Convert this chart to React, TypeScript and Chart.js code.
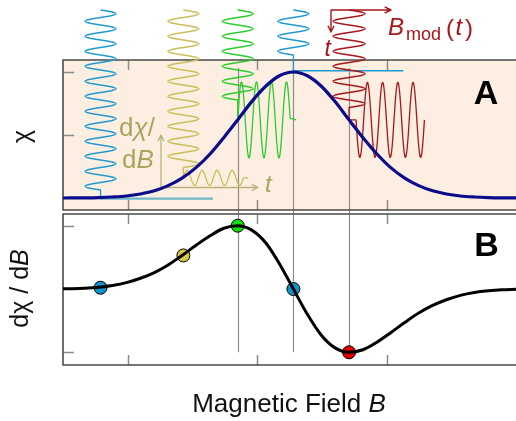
import React, { useEffect, useRef } from "react";
import { Chart, registerables } from "chart.js";

Chart.register(...registerables);

// ---------- data ----------
// magnetic field (arbitrary units)
const fieldB = [
  0.726, 0.78, 0.834, 0.888, 0.941, 0.995, 1.049, 1.103, 1.156, 1.21, 1.264, 1.318,
  1.371, 1.425, 1.479, 1.533, 1.586, 1.64, 1.694, 1.748, 1.801, 1.855, 1.909, 1.963,
  2.016, 2.07, 2.124, 2.178, 2.231, 2.285, 2.339, 2.393, 2.446, 2.5,
];
// absorption chi (normalised)
const chiValues = [
  0.0, 0.0004, 0.0013, 0.0035, 0.008, 0.016, 0.032, 0.057, 0.098, 0.158, 0.241, 0.349,
  0.479, 0.62, 0.765, 0.887, 0.97, 1.0, 0.97, 0.887, 0.765, 0.62, 0.479, 0.349,
  0.241, 0.158, 0.098, 0.057, 0.032, 0.016, 0.008, 0.0035, 0.0013, 0.0004,
];
// first derivative dchi/dB (normalised)
const dChiValues = [
  0.002, 0.005, 0.012, 0.028, 0.055, 0.1, 0.17, 0.26, 0.38, 0.53, 0.69, 0.84,
  0.96, 1.0, 0.93, 0.73, 0.4, 0.0, -0.4, -0.73, -0.93, -1.0, -0.96, -0.84,
  -0.69, -0.53, -0.38, -0.26, -0.17, -0.1, -0.055, -0.028, -0.012, -0.005,
];
// probe points (field value, chi, derivative)
const probeB = [0.895, 1.215, 1.425, 1.64, 1.855];
const probeChi = [0.004, 0.16, 0.62, 1.0, 0.62];
const probeDChi = [0.02, 0.53, 1.0, 0.0, -1.0];

// tick values
const fieldTicks = [1.0, 1.5, 2.0];
const chiTicks = [0.5, 1.0];
const dChiTicks = [1, -1];

// ---------- styles ----------
const FONT = '"Liberation Sans", Arial, Helvetica, sans-serif';
const probeFill = ["#1193c9", "#d6c64e", "#11dd11", "#1193c9", "#e00000"];
const waveColor = ["#1e9ad0", "#cbbd58", "#2bcc2b", "#1e9ad0", "#a8161b"];
const waveHalfCycles = [24, 21, 12, 6, 13];
const waveAmp = [15.5, 15.5, 15.5, 15.5, 16];
const respAmp = [0, 7.5, 38, 0, 37.5];
const respCycles = [0, 4, 3.5, 0, 4.5];
const respPeriod = [15, 15, 15, 15, 15.2];
const respLead = [0, 0, 0, 0, 7];
const respTail = [0, 5, 6, 0, 0];

const PANEL_A = [1.095, -0.095]; // on yA
const PANEL_B = [1.185, -1.2]; // on yB

function drawRuns(ctx: CanvasRenderingContext2D, runs: [string, string][], x: number, y: number, align: "left" | "center" = "left") {
  let total = 0;
  for (const [t, f] of runs) {
    ctx.font = f;
    total += ctx.measureText(t).width;
  }
  let cx = align === "center" ? x - total / 2 : x;
  ctx.textAlign = "left";
  for (const [t, f] of runs) {
    ctx.font = f;
    ctx.fillText(t, cx, y);
    cx += ctx.measureText(t).width;
  }
}

function arrowHead(ctx: CanvasRenderingContext2D, x0: number, y0: number, x1: number, y1: number, size: number) {
  const a = Math.atan2(y1 - y0, x1 - x0);
  ctx.beginPath();
  ctx.moveTo(x0, y0);
  ctx.lineTo(x1, y1);
  ctx.moveTo(x1 - size * Math.cos(a - 0.45), y1 - size * Math.sin(a - 0.45));
  ctx.lineTo(x1, y1);
  ctx.lineTo(x1 - size * Math.cos(a + 0.45), y1 - size * Math.sin(a + 0.45));
  ctx.stroke();
}

const decor = {
  id: "decor",
  beforeDatasetsDraw(chart: any) {
    const { ctx, chartArea, scales } = chart;
    const xs = scales.x, yA = scales.yA, yB = scales.yB;
    const L = chartArea.left, R = chartArea.right;
    const aTop = yA.getPixelForValue(PANEL_A[0]);
    const aBot = yA.getPixelForValue(PANEL_A[1]);
    const bTop = yB.getPixelForValue(PANEL_B[0]);
    const bBot = yB.getPixelForValue(PANEL_B[1]);
    ctx.save();
    // panel A background
    ctx.fillStyle = "#fcefe1";
    ctx.fillRect(L, aTop, R - L, aBot - aTop);

    // guide lines
    ctx.strokeStyle = "#8e8e8e";
    ctx.lineWidth = 1.2;
    [2, 3, 4].forEach((i) => {
      const px = Math.round(xs.getPixelForValue(probeB[i])) + 0.5;
      ctx.beginPath();
      ctx.moveTo(px, i === 3 ? aTop : aTop + 8);
      ctx.lineTo(px, yB.getPixelForValue(-1));
      ctx.stroke();
    });

    // ticks
    ctx.strokeStyle = "#8a8a8a";
    ctx.lineWidth = 1.5;
    const tl = 10;
    for (const [top, bot] of [[aTop, aBot], [bTop, bBot]]) {
      for (const t of fieldTicks) {
        const px = Math.round(xs.getPixelForValue(t)) + 0.5;
        ctx.beginPath();
        ctx.moveTo(px, top);
        ctx.lineTo(px, top + tl);
        ctx.moveTo(px, bot);
        ctx.lineTo(px, bot - tl);
        ctx.stroke();
      }
    }
    for (const t of chiTicks) {
      const py = Math.round(yA.getPixelForValue(t)) + 0.5;
      ctx.beginPath();
      ctx.moveTo(L, py);
      ctx.lineTo(L + 11, py);
      ctx.stroke();
    }
    for (const t of dChiTicks) {
      const py = Math.round(yB.getPixelForValue(t)) + 0.5;
      ctx.beginPath();
      ctx.moveTo(L, py);
      ctx.lineTo(L + 11, py);
      ctx.stroke();
    }

    // frames
    ctx.strokeStyle = "#4a4a4a";
    ctx.lineWidth = 1.6;
    for (const [top, bot] of [[aTop, aBot], [bTop, bBot]]) {
      ctx.beginPath();
      ctx.moveTo(R + 2, top);
      ctx.lineTo(L, top);
      ctx.lineTo(L, bot);
      ctx.lineTo(R + 2, bot);
      ctx.stroke();
    }

    // flat responses (zero derivative)
    {
      const x0 = xs.getPixelForValue(probeB[0]);
      const y0 = yA.getPixelForValue(probeChi[0]) + 1.2;
      ctx.strokeStyle = "#6db7c7";
      ctx.lineWidth = 2.2;
      ctx.beginPath();
      ctx.moveTo(x0, y0);
      ctx.lineTo(x0 + 112.5, y0);
      ctx.stroke();
      const x3 = xs.getPixelForValue(probeB[3]);
      const y3 = yA.getPixelForValue(probeChi[3]) - 1.3;
      ctx.strokeStyle = waveColor[3];
      ctx.lineWidth = 1.5;
      ctx.beginPath();
      ctx.moveTo(x3, y3);
      ctx.lineTo(x3 + 110, y3);
      ctx.stroke();
    }

    // modulation waves + responses
    const waveTop = 10;
    const period = 15;
    ctx.lineWidth = 1.3;
    ctx.lineJoin = "round";
    probeB.forEach((b, i) => {
      const cx = xs.getPixelForValue(b);
      const cy = yA.getPixelForValue(probeChi[i]);
      ctx.strokeStyle = waveColor[i];
      ctx.beginPath();
      const yEnd = waveTop + (waveHalfCycles[i] * period) / 2;
      for (let y = waveTop; y <= yEnd + 0.001; y += 0.5) {
        const px = cx + waveAmp[i] * Math.sin((2 * Math.PI * (y - waveTop)) / period);
        if (y === waveTop) ctx.moveTo(px, y);
        else ctx.lineTo(px, y);
      }
      ctx.lineTo(cx, cy);
      if (respAmp[i] > 0) {
        const p = respPeriod[i];
        const sgn = Math.sign(probeDChi[i]);
        const xs0 = cx + respLead[i];
        ctx.lineTo(xs0, cy);
        const xe = xs0 + respCycles[i] * p;
        for (let x = xs0; x <= xe + 0.001; x += 0.4) {
          const py = cy - sgn * respAmp[i] * Math.sin((2 * Math.PI * (x - xs0)) / p);
          ctx.lineTo(x, py);
        }
        ctx.lineTo(xe + respTail[i], cy);
      }
      ctx.stroke();
    });

    // small olive axes (response vs time)
    ctx.strokeStyle = "#b9b27c";
    ctx.lineWidth = 1.3;
    arrowHead(ctx, 161, 187.5, 161, 135, 7);
    arrowHead(ctx, 161, 187.5, 258, 187.5, 7);

    // red B_mod / t arrows
    ctx.strokeStyle = "#a8161b";
    ctx.lineWidth = 1.4;
    arrowHead(ctx, 331, 10, 391, 10, 7);
    arrowHead(ctx, 331, 10, 331, 32, 7);
    ctx.restore();
  },
  afterDatasetsDraw(chart: any) {
    const { ctx } = chart;
    ctx.save();
    ctx.textBaseline = "alphabetic";
    // olive labels
    ctx.fillStyle = "#aaa45f";
    drawRuns(ctx, [["d", `26px ${FONT}`], ["\u03C7", `italic 26px ${FONT}`], ["/", `26px ${FONT}`]], 137, 136, "center");
    drawRuns(ctx, [["d", `26px ${FONT}`], ["B", `italic 26px ${FONT}`]], 138, 168, "center");
    drawRuns(ctx, [["t", `italic 24px ${FONT}`]], 265, 192);
    // red labels
    ctx.fillStyle = "#a8161b";
    drawRuns(ctx, [["t", `italic 23px ${FONT}`]], 324.5, 56);
    ctx.font = `italic 24px ${FONT}`;
    ctx.fillText("B", 388, 35);
    ctx.font = `18px ${FONT}`;
    ctx.fillText("mod", 406, 39.5);
    ctx.font = `24px ${FONT}`;
    ctx.fillText("(", 446, 36);
    ctx.font = `italic 24px ${FONT}`;
    ctx.fillText("t", 455.5, 35);
    ctx.font = `24px ${FONT}`;
    ctx.fillText(")", 465, 36);
    // panel letters
    ctx.fillStyle = "#000";
    ctx.textAlign = "center";
    ctx.font = `bold 34px ${FONT}`;
    ctx.fillText("A", 486, 104);
    ctx.fillText("B", 486.5, 256);
    // axis titles
    ctx.fillStyle = "#111";
    drawRuns(ctx, [["Magnetic Field ", `26px ${FONT}`], ["B", `italic 26px ${FONT}`]], 289, 411.5, "center");
    ctx.save();
    ctx.translate(29.7, 136.5);
    ctx.rotate(-Math.PI / 2);
    drawRuns(ctx, [["\u03C7", `25px ${FONT}`]], 0, 0, "center");
    ctx.restore();
    ctx.save();
    ctx.translate(28, 288.5);
    ctx.rotate(-Math.PI / 2);
    drawRuns(ctx, [["d\u03C7 / d", `25px ${FONT}`], ["B", `italic 25px ${FONT}`]], 0, 0, "center");
    ctx.restore();
    ctx.restore();
  },
};

export default function App() {
  const ref = useRef<HTMLCanvasElement | null>(null);
  useEffect(() => {
    if (!ref.current) return;
    const chart = new Chart(ref.current, {
      type: "line",
      data: {
        datasets: [
          {
            label: "chi",
            data: fieldB.map((b, i) => ({ x: b, y: chiValues[i] })),
            yAxisID: "yA",
            borderColor: "#0b0b8c",
            borderWidth: 3.2,
            pointRadius: 0,
            cubicInterpolationMode: "monotone",
            fill: false,
          },
          {
            label: "dchi",
            data: fieldB.map((b, i) => ({ x: b, y: dChiValues[i] })),
            yAxisID: "yB",
            borderColor: "#000000",
            borderWidth: 3,
            pointRadius: 0,
            cubicInterpolationMode: "monotone",
            fill: false,
          },
          {
            type: "scatter",
            label: "probes",
            data: probeB.map((b, i) => ({ x: b, y: probeDChi[i] })),
            yAxisID: "yB",
            pointRadius: 6.5,
            pointBackgroundColor: probeFill,
            pointBorderColor: "#000",
            pointBorderWidth: 1,
            showLine: false,
          } as any,
        ],
      },
      options: {
        responsive: false,
        animation: false,
        devicePixelRatio: 1,
        events: [],
        layout: { autoPadding: false, padding: { left: 63, top: 60, right: 0, bottom: 56 } },
        plugins: { legend: { display: false }, tooltip: { enabled: false } },
        scales: {
          x: { type: "linear", min: 0.75, max: 2.5, display: false },
          yA: { type: "linear", position: "left", min: -1.3254, max: 1.0952, display: false },
          yB: { type: "linear", position: "left", min: -1.2006, max: 3.6177, display: false },
        },
      },
      plugins: [decor],
    });
    return () => chart.destroy();
  }, []);
  return (
    <div style={{ position: "fixed", left: 0, top: 0, width: 516, height: 421, background: "#fff", overflow: "hidden" }}>
      <canvas ref={ref} width={516} height={421} style={{ display: "block", width: 516, height: 421 }} />
    </div>
  );
}
